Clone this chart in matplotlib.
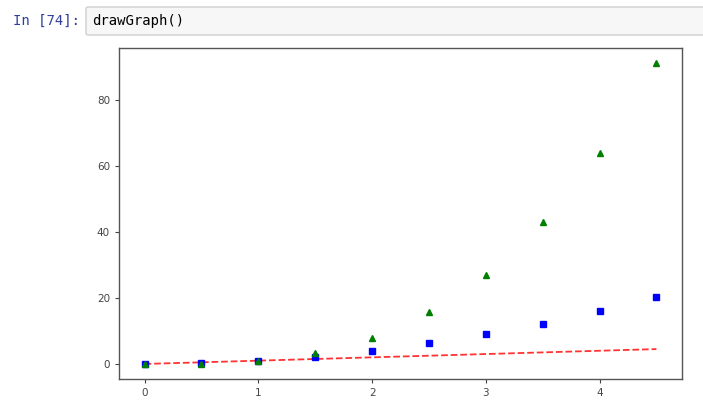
import matplotlib
matplotlib.use("Agg")
import matplotlib.pyplot as plt
from matplotlib.patches import FancyBboxPatch

t = [0, 0.5, 1, 1.5, 2, 2.5, 3, 3.5, 4, 4.5]
linear = [0, 0.5, 1, 1.5, 2, 2.5, 3, 3.5, 4, 4.5]
squares = [0, 0.25, 1, 2.25, 4, 6.25, 9, 12.25, 16, 20.25]
cubes = [0, 0.125, 1, 3.375, 8, 15.625, 27, 42.875, 64, 91.125]
xticks = [0, 1, 2, 3, 4]
yticks = [0, 20, 40, 60, 80]

fig = plt.figure(figsize=(7.03, 4.05), dpi=100)
fig.patch.set_facecolor("white")

# notebook cell header
fig.text(13/703, 1-21/405, "In [74]:", color="#303F9F", fontsize=10,
         family="DejaVu Sans Mono", va="center", ha="left")
box = FancyBboxPatch((86/703, 1-35/405), (703-86)/703 + 0.01, 28/405,
                     boxstyle="round,pad=0,rounding_size=0.004",
                     transform=fig.transFigure,
                     facecolor="#f7f7f7", edgecolor="#cfcfcf", linewidth=1)
fig.patches.append(box)
fig.text(92/703, 1-21/405, "drawGraph()", color="black", fontsize=10,
         family="DejaVu Sans Mono", va="center", ha="left")

ax = fig.add_axes([119/703, 1-379/405, (682-119)/703, (379-48)/405])
ax.plot(t, linear, "r--", linewidth=1.3, alpha=0.8)
ax.plot(t, squares, "bs", markersize=4.5)
ax.plot(t, cubes, "g^", markersize=4.5)
ax.set_xticks(xticks)
ax.set_yticks(yticks)
ax.tick_params(labelsize=7.5, colors="#444444", length=3)
for s in ax.spines.values():
    s.set_color("#555555")
    s.set_linewidth(1)

fig.savefig("out.png", dpi=100)
